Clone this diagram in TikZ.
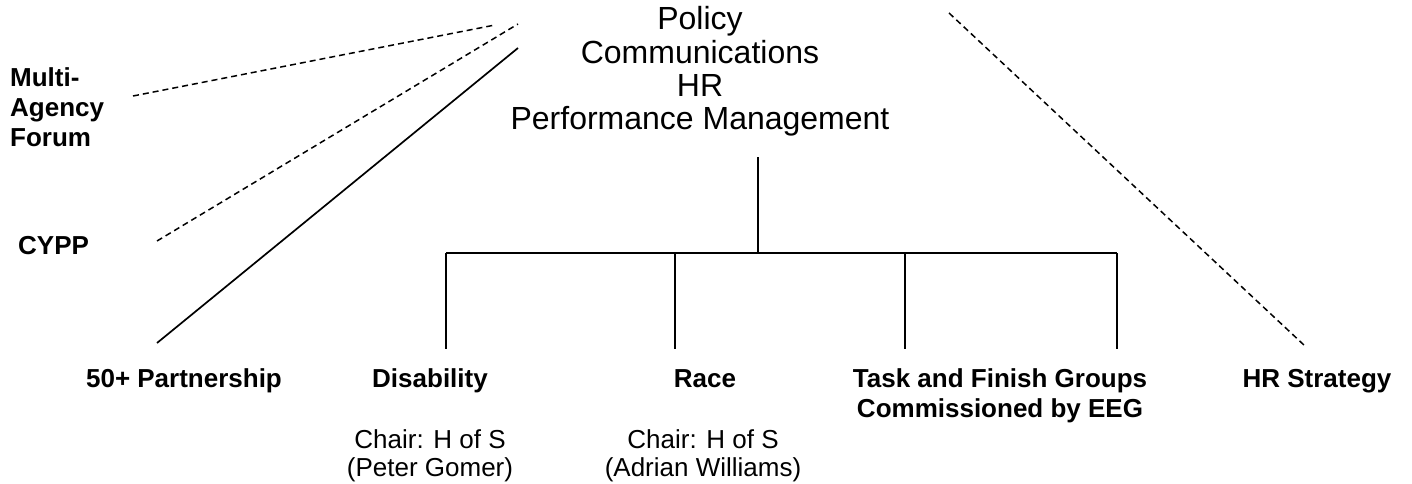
\documentclass[tikz,border=0pt]{standalone}
\usepackage{fontspec}
\setmainfont{Liberation Sans}
\usepackage{tikz}

\tikzset{
  grp/.style={inner sep=0pt, font=\fontsize{26}{30}\selectfont\bfseries},
  chairtxt/.style={inner sep=0pt, align=center, font=\fontsize{26}{28}\selectfont},
  link/.style={line width=1.7pt},
  dashlink/.style={line width=1.5pt, dash pattern=on 6pt off 4pt}
}

\begin{document}
\begin{tikzpicture}[x=1pt,y=-1pt]
  \useasboundingbox (0,0) rectangle (1412,484);

  % top block
  \node[inner sep=0pt, align=center, anchor=north, font=\fontsize{32}{33.3}\selectfont]
    (core) at (700,6.6) {Policy\\Communications\\HR\\Performance Management};

  % outside bodies on the left and right
  \node[grp, align=left, anchor=north west] (maf) at (10,67) {Multi-\\Agency\\Forum};
  \node[grp, anchor=base west] (cypp) at (18,254) {CYPP};
  \node[grp, anchor=base] (fifty) at (184,387) {50+ Partnership};
  \node[grp, anchor=base] (hrs) at (1317,387) {HR Strategy};

  % groups under the bar
  \node[grp, anchor=base] (dis) at (430,387) {Disability};
  \node[grp, anchor=base] (race) at (705,387) {Race};
  \node[grp, align=center, anchor=north] (tfg) at (1000,368)
    {Task and Finish Groups\\Commissioned by EEG};

  % chairs
  \node[chairtxt, anchor=north] (dischair) at (430,429) {Chair: H of S\\(Peter Gomer)};
  \node[chairtxt, anchor=north] (racechair) at (703,429) {Chair: H of S\\(Adrian Williams)};

  % line ends
  \coordinate (mafA) at (133,96);
  \coordinate (mafB) at (495,25);
  \coordinate (cyppA) at (157,241);
  \coordinate (cyppB) at (518,24);
  \coordinate (fiftyA) at (157,343);
  \coordinate (fiftyB) at (518,48);
  \coordinate (hrsA) at (949,13);
  \coordinate (hrsB) at (1305,346);
  \coordinate (stem) at (758,157);
  \coordinate (bar) at (758,253);

  % links to the top block
  \draw[dashlink] (mafA) -- (mafB);
  \draw[dashlink] (cyppA) -- (cyppB);
  \draw[link] (fiftyA) -- (fiftyB);
  \draw[dashlink] (hrsA) -- (hrsB);

  % tree down to the groups
  \draw[link] (stem) -- (bar);
  \draw[link] (446,253) -- (1117,253);
  \foreach \x in {446,675,905,1117}
    \draw[link] (\x,253) -- (\x,349);
\end{tikzpicture}
\end{document}
